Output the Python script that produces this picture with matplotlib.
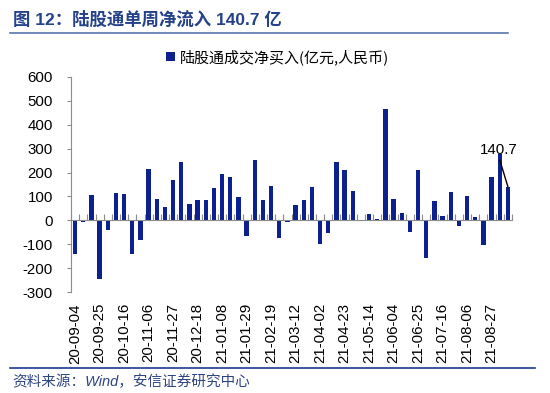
import matplotlib
matplotlib.use("Agg")
import matplotlib.pyplot as plt
from matplotlib.lines import Line2D
import numpy as np
import pandas as pd

plt.rcParams['font.family'] = ['Liberation Sans', 'Noto Sans CJK SC', 'DejaVu Sans']

# ---- data ----
start_date = "2020-09-04"
n_weeks = 54
values = [-140, -5, 108, -246, -40, 113, 111, -139, -84, 216,
          90, 56, 170, 245, 70, 84, 85, 136, 193, 181,
          96, -67, 252, 86, 145, -74, -8, 65, 86, 141,
          -97, -52, 246, 212, 122, 3, 28, 4, 466, 89,
          29, -49, 212, -156, 82, 17, 118, -22, 102, 13,
          -103, 182, 278, 140.7]
dates = pd.date_range(start_date, periods=n_weeks, freq="7D")
tick_labels = [d.strftime("%y-%m-%d") for d in dates]
label_step = 3
series_name = "陆股通成交净买入(亿元,人民币)"
title = "图 12：陆股通单周净流入 140.7 亿"
source = "资料来源：Wind，安信证券研究中心"
annot_text = "140.7"
yticks = [-300, -200, -100, 0, 100, 200, 300, 400, 500, 600]

bar_color = "#0C2090"
title_color = "#24418A"
gray = "#8C8C8C"

W, H = 550, 393
fig = plt.figure(figsize=(W / 100, H / 100), dpi=100)
ax = fig.add_axes([71 / W, 1 - 292 / H, (512 - 71) / W, (292 - 77) / H])

x = np.arange(len(values))
bars = ax.bar(x, values, width=0.55, color=bar_color, label=series_name, zorder=2)

ax.set_xlim(-0.5, len(values) - 0.5)
ax.set_ylim(-300, 600)
ax.set_yticks(yticks)
ax.set_yticklabels([str(v) for v in yticks])
ax.tick_params(axis='y', direction='out', length=3, width=0.8, color=gray,
               labelsize=10.8, pad=10, labelcolor='black')

for s in ['top', 'right']:
    ax.spines[s].set_visible(False)
ax.spines['left'].set_color(gray)
ax.spines['left'].set_linewidth(0.8)
ax.spines['bottom'].set_position(('data', 0))
ax.spines['bottom'].set_color(gray)
ax.spines['bottom'].set_linewidth(0.8)
ax.spines['bottom'].set_zorder(3)

ax.set_xticks([])
ax.set_xticks(np.arange(len(values) + 1) - 0.5, minor=True)
ax.tick_params(axis='x', which='minor', direction='in', length=4, width=0.8,
               color=gray, labelbottom=False)

sec = ax.secondary_xaxis('bottom')
sec.set_xticks(x[::label_step])
sec.set_xticklabels(tick_labels[::label_step], rotation=90)
sec.tick_params(axis='x', length=0, pad=8, labelsize=10.8)
sec.spines['bottom'].set_visible(False)

# annotation
ax.annotate(annot_text, xy=(x[-1], values[-1]), xytext=(51.9, 293),
            ha='center', va='center', fontsize=10.8,
            arrowprops=dict(arrowstyle='-', color='black', lw=1.0,
                            shrinkA=0, shrinkB=0, relpos=(0.5, 0.0)))

# legend
fig.legend(handles=[bars], labels=[series_name], loc='center',
           bbox_to_anchor=(0.505, 1 - 57 / H), frameon=False,
           handlelength=0.55, handleheight=0.55, handletextpad=0.35,
           prop={'family': ['Noto Sans CJK SC', 'DejaVu Sans'], 'size': 10.8})

# title and lines
fig.text(13 / W, 1 - 19 / H, title, color=title_color, fontsize=12.5,
         fontweight='bold', va='center', ha='left',
         family=['Liberation Sans', 'Noto Sans CJK SC'])
fig.add_artist(Line2D([10 / W, 508 / W], [1 - 33 / H] * 2, color="#5A74B0", lw=1.2))
fig.add_artist(Line2D([10 / W, 535 / W], [1 - 368 / H] * 2, color="#1B3A96", lw=1.2))

fig.text(12 / W, 1 - 382 / H, source, color="#2F4580", fontsize=10.5,
         style='italic', va='center', ha='left',
         family=['Liberation Sans', 'Noto Sans CJK SC'])

fig.savefig("out.png", dpi=100)
